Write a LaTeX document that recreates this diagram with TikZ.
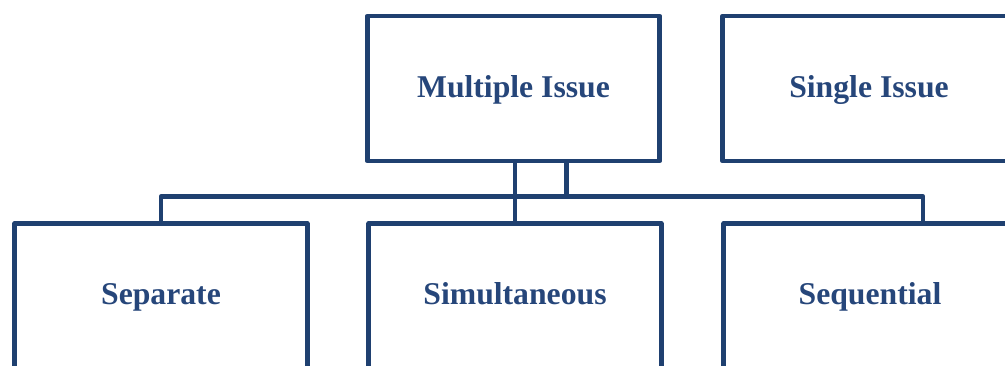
\documentclass[tikz,border=0pt]{standalone}
\usepackage{fontspec}
\setmainfont{Liberation Serif}
\usepackage{tikz}

\definecolor{issueblue}{RGB}{31,64,112}
\definecolor{issuetext}{RGB}{38,70,122}

\begin{document}
\begin{tikzpicture}[x=0.5pt,y=-0.5pt,node distance=177pt,line width=2.3pt,line join=round]

\tikzstyle{issue}=[draw=issueblue,rectangle,minimum width=146.25pt,minimum height=72.5pt,
	text height=0.89em,text depth=0pt,
	text=issuetext,font=\fontsize{15.85}{18}\selectfont\bfseries]

\useasboundingbox (0,0) rectangle (1005,365);
\clip (0,0) rectangle (1005,365);

\node[issue] 	(mi) at (513.5,88.5) 	{Multiple Issue};
\node[issue] 	(si) [right of=mi,node distance=177.75pt] {Single Issue};
\node[issue] 	(sim) at (515,296) 		{Simultaneous};
\node[issue] 	(sep) [left of=sim] 	{Separate};
\node[issue] 	(seq) [right of=sim,node distance=177.5pt] {Sequential};

\coordinate (bus) at (515,196.5);

\draw[issueblue] 	(sim.north) -- (sim.north |- mi.south);
\draw[issueblue] 	([xshift=26.5pt]mi.south) -- ([xshift=26.5pt]mi.south |- bus);
\draw[issueblue] 	(sep.north) |- ([xshift=26.5pt]seq.north |- bus) -- ([xshift=26.5pt]seq.north);
\end{tikzpicture}
\end{document}
